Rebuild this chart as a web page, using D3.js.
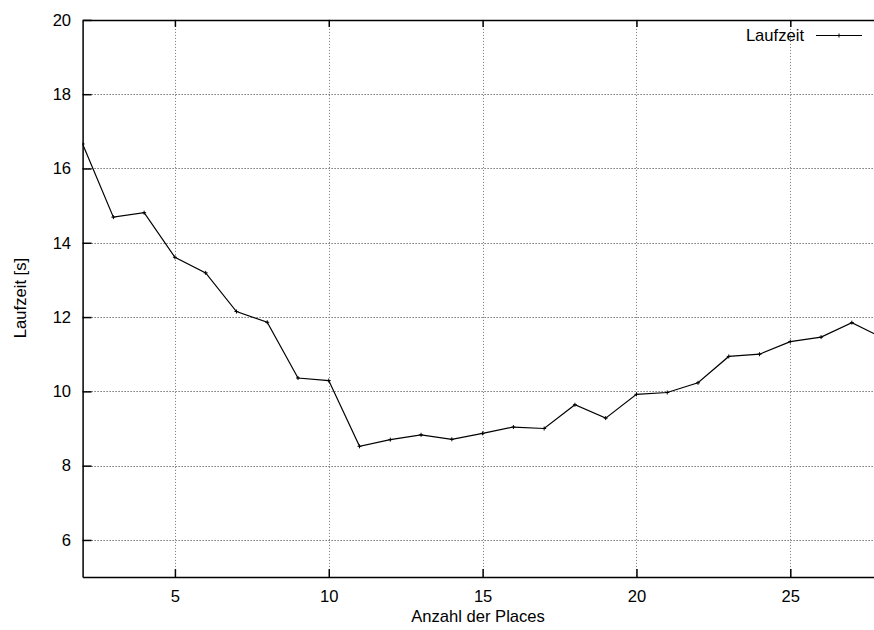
<!DOCTYPE html>
<html>
<head>
<meta charset="utf-8">
<script src="https://cdn.jsdelivr.net/npm/d3@7"></script>
<style>
  html, body { margin: 0; padding: 0; background: #fff; }
  svg { display: block; font-family: "Liberation Sans", Arial, Helvetica, sans-serif; }
</style>
</head>
<body>
<svg id="chart" width="874" height="630"></svg>
<script>
// Laufzeit in Sekunden je Anzahl der Places
const places = [2, 3, 4, 5, 6, 7, 8, 9, 10, 11, 12, 13, 14, 15, 16, 17, 18, 19, 20, 21, 22, 23, 24, 25, 26, 27, 28];
const laufzeit = [16.66, 14.69, 14.81, 13.61, 13.19, 12.15, 11.86, 10.36, 10.29, 8.52, 8.70, 8.83, 8.71, 8.87, 9.04, 9.00, 9.64, 9.28, 9.92, 9.97, 10.23, 10.94, 11.00, 11.34, 11.46, 11.85, 11.44];
const xTicks = [5, 10, 15, 20, 25];
const yTicks = [6, 8, 10, 12, 14, 16, 18, 20];
const xDomain = [2, 28];
const yDomain = [5, 20];

const fontSize = "16.6px";
const svg = d3.select("#chart");
const plotLeft = 82.6, plotTop = 19.9, plotBottom = 577.1;
const unitX = 30.77;
const plotRight = plotLeft + (xDomain[1] - xDomain[0]) * unitX;

const x = d3.scaleLinear().domain(xDomain).range([plotLeft, plotRight]);
const y = d3.scaleLinear().domain(yDomain).range([plotBottom, plotTop]);

svg.append("defs").append("clipPath").attr("id", "plot")
  .append("rect").attr("x", plotLeft).attr("y", plotTop)
  .attr("width", plotRight - plotLeft).attr("height", plotBottom - plotTop);

// Gitterlinien
const grid = svg.append("g");
grid.selectAll("line.gy").data(yTicks.filter(d => d < yDomain[1])).join("line")
  .attr("x1", plotLeft).attr("x2", plotRight)
  .attr("y1", d => Math.round(y(d)) + 0.5).attr("y2", d => Math.round(y(d)) + 0.5)
  .attr("stroke", "#333").attr("stroke-width", 1).attr("stroke-dasharray", "1,2");
grid.selectAll("line.gx").data(xTicks).join("line")
  .attr("x1", d => Math.round(x(d)) + 0.5).attr("x2", d => Math.round(x(d)) + 0.5)
  .attr("y1", plotTop).attr("y2", plotBottom)
  .attr("stroke", "#777").attr("stroke-width", 1).attr("stroke-dasharray", "1,2");

// Achsen
const yAxis = d3.axisLeft(y).tickValues(yTicks).tickSizeInner(-9).tickSizeOuter(0).tickPadding(11.5);
const gy = svg.append("g").attr("transform", `translate(${plotLeft},0)`).call(yAxis);
const xAxis = d3.axisBottom(x).tickValues(xTicks).tickSizeInner(-8).tickSizeOuter(0).tickPadding(13.4);
const gx = svg.append("g").attr("transform", `translate(0,${plotBottom})`).call(xAxis);
const xTop = d3.axisTop(x).tickValues(xTicks).tickSizeInner(-7).tickSizeOuter(0).tickFormat("");
const gt = svg.append("g").attr("transform", `translate(0,${plotTop})`).call(xTop);

[gy, gx, gt].forEach(g => {
  g.select(".domain").attr("stroke", "#000").attr("stroke-width", 1.5);
  g.selectAll(".tick line").attr("stroke", "#000").attr("stroke-width", 1.5);
  g.selectAll(".tick text").attr("fill", "#000").style("font-size", fontSize)
    .style("font-family", '"Liberation Sans", Arial, sans-serif');
});

// Datenlinie
const plot = svg.append("g").attr("clip-path", "url(#plot)");
const pts = places.map((p, i) => [p, laufzeit[i]]);
plot.append("path").datum(pts)
  .attr("fill", "none").attr("stroke", "#000").attr("stroke-width", 1.2)
  .attr("d", d3.line().x(d => x(d[0])).y(d => y(d[1])));
plot.selectAll("path.pt").data(pts).join("path").attr("class", "pt")
  .attr("d", d => `M${x(d[0]) - 2},${y(d[1])}h4M${x(d[0])},${y(d[1]) - 2}v4`)
  .attr("stroke", "#000").attr("stroke-width", 1);

// Legende
const lg = svg.append("g");
lg.append("text").attr("x", 804).attr("y", 41).attr("text-anchor", "end")
  .style("font-size", fontSize).text("Laufzeit");
lg.append("line").attr("x1", 816).attr("x2", 862).attr("y1", 35.5).attr("y2", 35.5)
  .attr("stroke", "#000").attr("stroke-width", 1.2);
lg.append("path").attr("d", "M837,35.5h4M839,33.5v4").attr("stroke", "#000");

// Achsentitel
svg.append("text").attr("x", 478).attr("y", 621.5).attr("text-anchor", "middle")
  .style("font-size", fontSize).text("Anzahl der Places");
svg.append("text").attr("transform", "translate(26,298) rotate(-90)").attr("text-anchor", "middle")
  .style("font-size", fontSize).text("Laufzeit [s]");
</script>
</body>
</html>
